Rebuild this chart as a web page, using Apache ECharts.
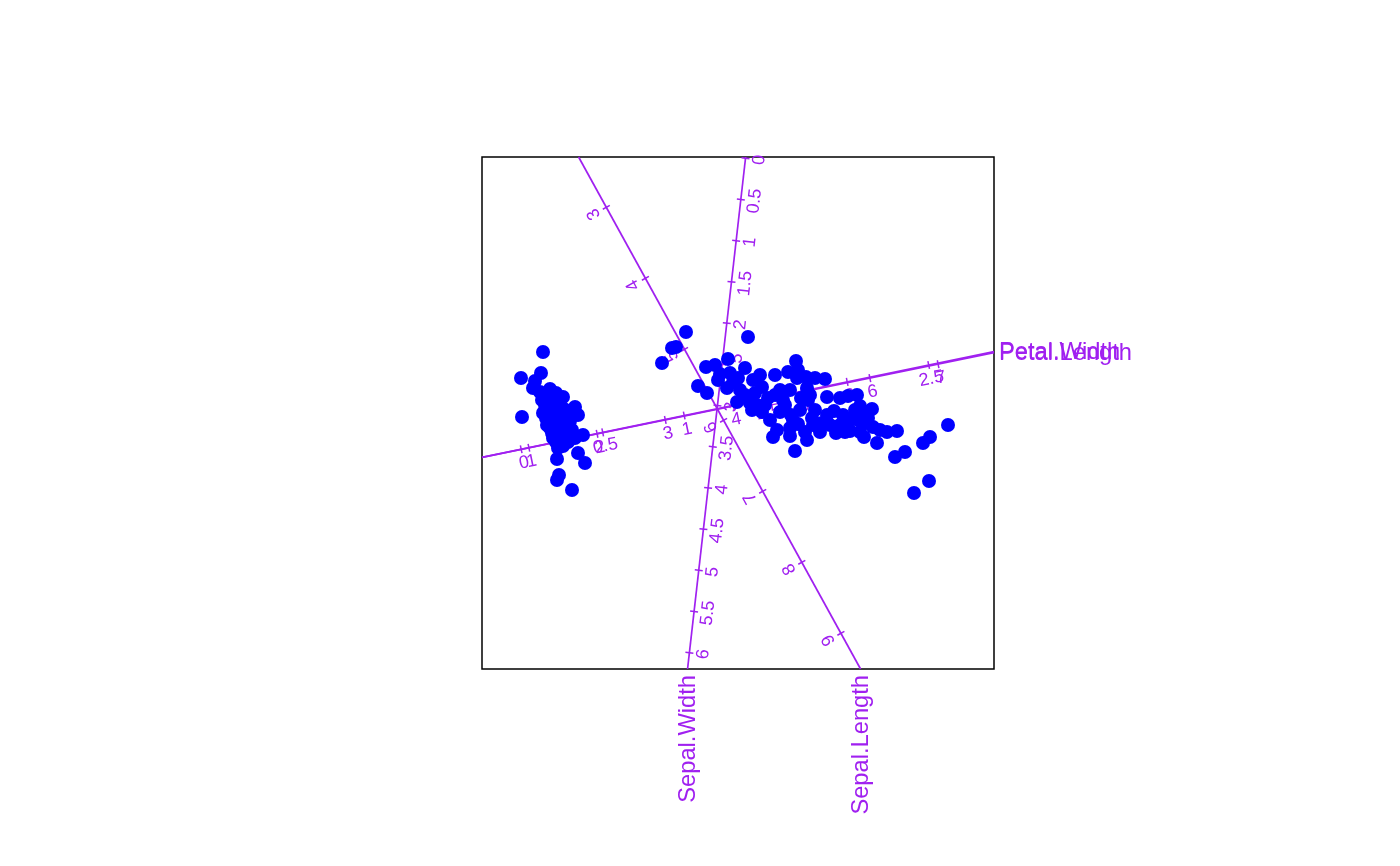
<!DOCTYPE html>
<html>
<head>
<meta charset="utf-8">
<script src="https://cdn.jsdelivr.net/npm/echarts@6/dist/echarts.min.js"></script>
<style>
  html, body { margin: 0; padding: 0; background: #ffffff; }
  #chart { width: 1400px; height: 866px; }
</style>
</head>
<body>
<div id="chart"></div>
<script>
// ---- biplot axes (calibrated variables) ----
const axisNames = ['Sepal.Length', 'Sepal.Width', 'Petal.Length', 'Petal.Width'];
// position of value 0 on each calibrated axis, in biplot coordinates
const axisOriginX = [-2.49, 0.075, -2.773, -2.168];
const axisOriginY = [4.187, 2.547, -0.487, -0.362];
// displacement per unit of the variable, in biplot coordinates
const axisUnitX = [0.391, -0.0935, 0.682, 1.63];
const axisUnitY = [-0.710, -0.824, 0.1393, 0.3366];
// tick values and labels
const tickValues = [
  [3, 4, 5, 6, 7, 8, 9],
  [0, 0.5, 1, 1.5, 2, 2.5, 3, 3.5, 4, 4.5, 5, 5.5, 6],
  [1, 2, 3, 4, 5, 6, 7],
  [0, 0.5, 1, 1.5, 2, 2.5]
];
const tickLabels = [
  ['3', '4', '5', '6', '7', '8', '9'],
  ['0', '0.5', '1', '1.5', '2', '2.5', '3', '3.5', '4', '4.5', '5', '5.5', '6'],
  ['1', '2', '3', '4', '5', '6', '7'],
  ['0', '0.5', '1', '1.5', '2', '2.5']
];
const labelSide = [1, -1, 1, 1];

// ---- sample scores (biplot coordinates) ----
const pc1 = [
  -1.95, -2.17, -1.97, -2.03, -2.05, -1.88, -1.75, -1.96, -1.63, -2.16,
  -1.95, -1.71, -1.60, -1.91, -1.55, -1.78, -1.80, -1.60, -1.81, -1.53,
  -1.79, -1.81, -1.66, -1.90, -1.82, -1.98, -1.85, -1.78, -1.90, -1.82,
  -1.74, -1.86, -1.78, -1.68, -1.92, -1.83, -1.73, -1.66, -1.86, -1.71,
  -1.63, -1.82, -1.75, -1.88, -1.68, -1.93, -1.80, -1.76, -1.85, -1.70,
  -0.52, 0.10, -0.66, -0.62, -0.76, -0.32, -0.23, -0.10, -0.18, 0.07,
  -0.40, -0.31, -0.08, 0.00, -0.11, 0.02, 0.15, 0.24, 0.37, 0.50,
  0.58, 0.60, -0.01, 0.12, 0.30, 0.42, 0.52, 0.24, 0.32, 0.42,
  0.39, 0.35, 0.55, 0.52, 0.59, 0.68, 0.77, 0.87, 0.69, 0.63,
  0.70, 0.89, 1.02, 1.10, 1.19, 1.22, 1.34, 0.19, 0.45, 0.53,
  0.60, 0.75, 0.84, 0.89, 0.96, 1.05, 1.12, 1.02, 0.98, 1.12,
  1.22, 1.25, 1.35, 1.20, 1.26, 1.39, 1.49, 1.59, 1.67, 1.57,
  1.85, 1.92, 2.10, 1.76, 1.91, 0.69, 0.57, 0.07, 0.17, -0.05,
  0.27, 0.47, 0.37, 0.14, 0.62, 0.77, 0.82, 0.92, 1.07, 1.30,
  1.42, 1.17, 0.72, 0.52, 0.67, -0.20, 0.22, 1.27, 0.74
];
const pc2 = [
  0.61, 0.35, 0.40, 0.32, 0.25, 0.24, 0.16, 0.13, 0.06, -0.04,
  0.00, -0.02, -0.02, -0.12, -0.22, -0.25, -0.35, -0.40, -0.46, -0.50,
  -0.62, -0.67, -0.77, 0.18, 0.20, 0.21, 0.11, 0.08, 0.05, 0.03,
  0.04, -0.05, -0.07, -0.08, -0.05, -0.14, -0.15, -0.17, -0.20, -0.23,
  -0.25, -0.29, -0.33, -0.15, 0.01, 0.08, 0.13, -0.19, -0.25, -0.29,
  0.81, 0.76, 0.65, 0.66, 0.50, 0.46, 0.48, 0.54, 0.39, 0.45,
  0.27, 0.20, 0.40, 0.35, 0.25, 0.23, 0.33, 0.26, 0.38, 0.41,
  0.52, 0.43, 0.11, 0.10, 0.15, 0.23, 0.23, 0.01, -0.07, 0.01,
  -0.17, -0.24, -0.07, -0.23, 0.35, 0.36, 0.35, 0.34, 0.25, 0.15,
  0.13, 0.16, 0.15, 0.17, 0.18, 0.07, 0.04, 0.08, 0.13, -0.02,
  -0.11, -0.12, -0.10, -0.02, 0.02, -0.02, -0.07, -0.12, -0.20, -0.18,
  -0.19, -0.11, -0.14, -0.07, -0.24, -0.30, -0.19, -0.18, -0.39, -0.44,
  -0.30, -0.24, -0.12, -0.80, -0.68, -0.27, -0.38, 0.18, 0.20, 0.31,
  0.08, 0.08, 0.18, 0.03, 0.03, 0.03, -0.19, -0.12, -0.19, -0.05,
  -0.17, 0.03, 0.18, -0.15, -0.19, 0.33, 0.38, 0.01, -0.05
];

const PURPLE = '#A020F0';
const LIM = 2.56;
const FONT = '"Liberation Sans", Arial, Helvetica, sans-serif';

function axisPoint(a, v) {
  return [axisOriginX[a] + v * axisUnitX[a], axisOriginY[a] + v * axisUnitY[a]];
}
function axisRange(a) {
  let lo = -Infinity, hi = Infinity;
  [[axisOriginX[a], axisUnitX[a]], [axisOriginY[a], axisUnitY[a]]].forEach(function (p) {
    if (Math.abs(p[1]) < 1e-9) return;
    const t1 = (-LIM - p[0]) / p[1], t2 = (LIM - p[0]) / p[1];
    lo = Math.max(lo, Math.min(t1, t2));
    hi = Math.min(hi, Math.max(t1, t2));
  });
  return [lo, hi];
}

const tickItems = [];
tickValues.forEach(function (vals, a) {
  vals.forEach(function (v, i) { tickItems.push({ a: a, v: v, label: tickLabels[a][i] }); });
});

const chart = echarts.init(document.getElementById('chart'), null, { renderer: 'canvas' });
chart.setOption({
  animation: false,
  backgroundColor: '#ffffff',
  grid: { left: 482, top: 157, width: 512, height: 512, show: true, borderColor: '#000000', borderWidth: 1.5, backgroundColor: 'transparent' },
  xAxis: { type: 'value', min: -LIM, max: LIM, show: false },
  yAxis: { type: 'value', min: -LIM, max: LIM, show: false },
  series: [
    {
      type: 'custom',
      name: 'axes',
      z: 2,
      silent: true,
      data: axisNames.map(function (n, i) { return [i]; }),
      renderItem: function (params, api) {
        const a = params.dataIndex;
        const r = axisRange(a);
        const p1 = api.coord(axisPoint(a, r[0]));
        const p2 = api.coord(axisPoint(a, r[1]));
        const children = [{
          type: 'line',
          shape: { x1: p1[0], y1: p1[1], x2: p2[0], y2: p2[1] },
          style: { stroke: PURPLE, lineWidth: 1.7 }
        }];
        // title at the high-value end of the axis
        const bottomEdge = Math.abs(p2[1] - (157 + 512)) < 2;
        if (bottomEdge) {
          children.push({
            type: 'text', x: p2[0] + 1, y: p2[1] + 6, rotation: Math.PI / 2,
            style: { text: axisNames[a], fill: PURPLE, font: '23.7px ' + FONT, align: 'right', verticalAlign: 'middle' }
          });
        } else {
          children.push({
            type: 'text', x: p2[0] + 5, y: p2[1] + 1,
            style: { text: axisNames[a], fill: PURPLE, font: '23.7px ' + FONT, align: 'left', verticalAlign: 'middle' }
          });
        }
        return { type: 'group', children: children };
      }
    },
    {
      type: 'custom',
      name: 'ticks',
      z: 2,
      silent: true,
      data: tickItems.map(function (t) { return [t.a, t.v]; }),
      renderItem: function (params, api) {
        const t = tickItems[params.dataIndex];
        const p = api.coord(axisPoint(t.a, t.v));
        const q = api.coord(axisPoint(t.a, t.v + 1));
        let dx = q[0] - p[0], dy = q[1] - p[1];
        const L = Math.hypot(dx, dy); dx /= L; dy /= L;
        const nx = -dy, ny = dx;
        let ang = Math.atan2(-dy, dx);
        if (ang < 0) ang += Math.PI;
        const s = labelSide[t.a];
        return {
          type: 'group',
          children: [
            { type: 'line', shape: { x1: p[0] - 4 * nx, y1: p[1] - 4 * ny, x2: p[0] + 4 * nx, y2: p[1] + 4 * ny },
              style: { stroke: PURPLE, lineWidth: 1.5 } },
            { type: 'text', x: p[0] + s * 14 * nx, y: p[1] + s * 14 * ny, rotation: ang,
              style: { text: t.label, fill: PURPLE, font: '18px ' + FONT, align: 'center', verticalAlign: 'middle' } }
          ]
        };
      }
    },
    {
      type: 'scatter',
      name: 'samples',
      z: 5,
      silent: true,
      symbol: 'circle',
      symbolSize: 14,
      itemStyle: { color: '#0000FF', opacity: 1 },
      data: pc1.map(function (x, i) { return [x, pc2[i]]; })
    }
  ]
});
</script>
</body>
</html>
